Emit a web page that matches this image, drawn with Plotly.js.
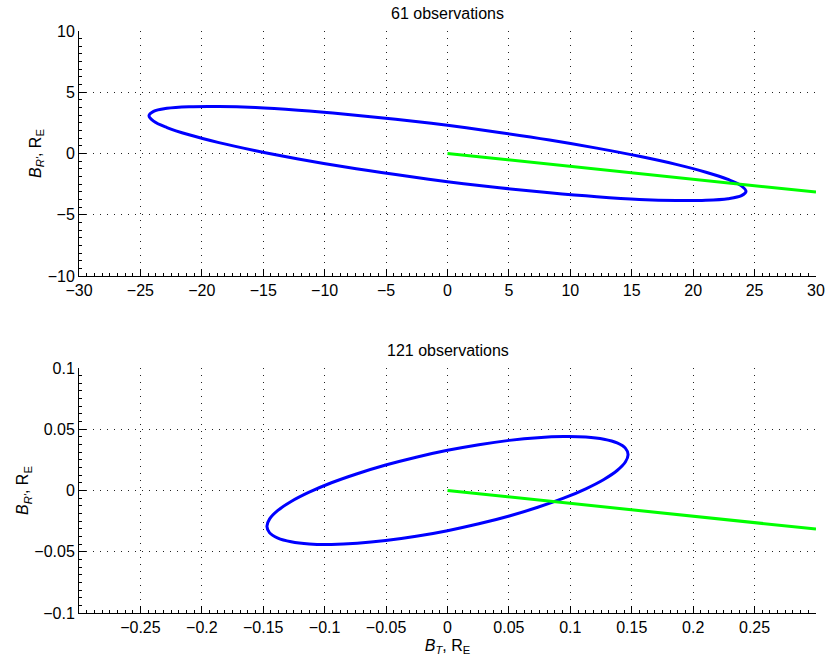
<!DOCTYPE html>
<html>
<head>
<meta charset="utf-8">
<script src="https://cdn.plot.ly/plotly-3.0.1.min.js"></script>
<style>html,body{margin:0;padding:0;background:#fff;}</style>
</head>
<body>
<div id="chart" style="width:827px;height:663px;"></div>
<script>
// ---- Data ----
var titles = ["61 observations", "121 observations"];

// Panel 1: 61 observations (confidence ellipse outline + green direction line)
var ell1X = [24.30, 23.93, 22.84, 21.04, 18.61, 15.62, 12.15, 8.31, 4.22, 0, -4.22, -8.31, -12.15, -15.62, -18.61, -21.04, -22.84, -23.93,
             -24.30, -23.93, -22.84, -21.04, -18.61, -15.62, -12.15, -8.31, -4.22, 0, 4.22, 8.31, 12.15, 15.62, 18.61, 21.04, 22.84, 23.93, 24.30];
var ell1Y = [-3.09, -2.64, -2.12, -1.53, -0.89, -0.23, 0.44, 1.10, 1.72, 2.30, 2.80, 3.21, 3.53, 3.75, 3.84, 3.82, 3.69, 3.44,
             3.09, 2.64, 2.12, 1.53, 0.89, 0.23, -0.44, -1.10, -1.72, -2.30, -2.80, -3.21, -3.53, -3.75, -3.84, -3.82, -3.69, -3.44, -3.09];
var line1X = [0, 30];
var line1Y = [0, -3.15];

// Panel 2: 121 observations
var ell2X = [0.1470, 0.1448, 0.1381, 0.1273, 0.1126, 0.0945, 0.0735, 0.0503, 0.0255, 0, -0.0255, -0.0503, -0.0735, -0.0945, -0.1126, -0.1273, -0.1381, -0.1448,
             -0.1470, -0.1448, -0.1381, -0.1273, -0.1126, -0.0945, -0.0735, -0.0503, -0.0255, 0, 0.0255, 0.0503, 0.0735, 0.0945, 0.1126, 0.1273, 0.1381, 0.1448, 0.1470];
var ell2Y = [0.0293, 0.0346, 0.0388, 0.0418, 0.0436, 0.0440, 0.0431, 0.0409, 0.0374, 0.0328, 0.0272, 0.0208, 0.0137, 0.0063, -0.0014, -0.0090, -0.0163, -0.0232,
             -0.0293, -0.0346, -0.0388, -0.0418, -0.0436, -0.0440, -0.0431, -0.0409, -0.0374, -0.0328, -0.0272, -0.0208, -0.0137, -0.0063, 0.0014, 0.0090, 0.0163, 0.0232, 0.0293];
var line2X = [0, 0.3];
var line2Y = [0, -0.0315];

var x1Ticks = [-30, -25, -20, -15, -10, -5, 0, 5, 10, 15, 20, 25, 30];
var y1Ticks = [-10, -5, 0, 5, 10];
var x2Ticks = [-0.25, -0.2, -0.15, -0.1, -0.05, 0, 0.05, 0.1, 0.15, 0.2, 0.25];
var y2Ticks = [-0.1, -0.05, 0, 0.05, 0.1];

var blue = "#0000ff", green = "#00ff00";

var traces = [
  {x: ell1X, y: ell1Y, xaxis: "x", yaxis: "y", mode: "lines", line: {color: blue, width: 3, shape: "spline", smoothing: 1}},
  {x: line1X, y: line1Y, xaxis: "x", yaxis: "y", mode: "lines", line: {color: green, width: 3}},
  {x: ell2X, y: ell2Y, xaxis: "x2", yaxis: "y2", mode: "lines", line: {color: blue, width: 3, shape: "spline", smoothing: 1}},
  {x: line2X, y: line2Y, xaxis: "x2", yaxis: "y2", mode: "lines", line: {color: green, width: 3}}
];

var fam = "Liberation Sans, Arial, Helvetica, sans-serif";
var tickFont = {family: fam, size: 16, color: "#000"};
var labFont = {family: fam, size: 16, color: "#000"};

function minorOf(d) {
  return {ticks: "inside", ticklen: 3, tickcolor: "#000", tickwidth: 1, dtick: d, tick0: 0, showgrid: false};
}
function axisBase(extra) {
  var a = {
    showline: true, linecolor: "#000", linewidth: 1, mirror: false,
    ticks: "inside", ticklen: 7, tickwidth: 1, tickcolor: "#000",
    showgrid: true, gridcolor: "#222", gridwidth: 1, griddash: "1px,6px",
    zeroline: false, tickfont: tickFont, fixedrange: true
  };
  for (var k in extra) a[k] = extra[k];
  return a;
}

var layout = {
  width: 827, height: 663,
  margin: {l: 79, r: 11, t: 31, b: 50},
  paper_bgcolor: "#fff", plot_bgcolor: "#fff",
  showlegend: false,
  font: tickFont,
  xaxis: axisBase({domain: [0, 1], range: [-30, 30], tickvals: x1Ticks, anchor: "y", minor: minorOf(0.625)}),
  yaxis: axisBase({domain: [0.579, 1], range: [-10, 10], tickvals: y1Ticks, anchor: "x", minor: minorOf(0.625),
                   title: {text: "<i>B<sub>R'</sub></i>, R<sub>E</sub>", font: labFont, standoff: 2}}),
  xaxis2: axisBase({domain: [0, 1], range: [-0.3, 0.3], tickvals: x2Ticks, anchor: "y2", minor: minorOf(0.00625),
                    title: {text: "<i>B<sub>T</sub></i>, R<sub>E</sub>", font: labFont, standoff: 4}}),
  yaxis2: axisBase({domain: [0, 0.421], range: [-0.1, 0.1], tickvals: y2Ticks, anchor: "x2", minor: minorOf(0.00625),
                    title: {text: "<i>B<sub>R'</sub></i>, R<sub>E</sub>", font: labFont, standoff: 1}}),
  annotations: [
    {text: titles[0], xref: "x domain", yref: "y domain", x: 0.5, y: 1, yanchor: "bottom", xanchor: "center",
     showarrow: false, yshift: 7, font: {family: fam, size: 16, color: "#000"}},
    {text: titles[1], xref: "x2 domain", yref: "y2 domain", x: 0.5, y: 1, yanchor: "bottom", xanchor: "center",
     showarrow: false, yshift: 7, font: {family: fam, size: 16, color: "#000"}}
  ]
};

Plotly.newPlot("chart", traces, layout, {displayModeBar: false, staticPlot: true});
</script>
</body>
</html>
